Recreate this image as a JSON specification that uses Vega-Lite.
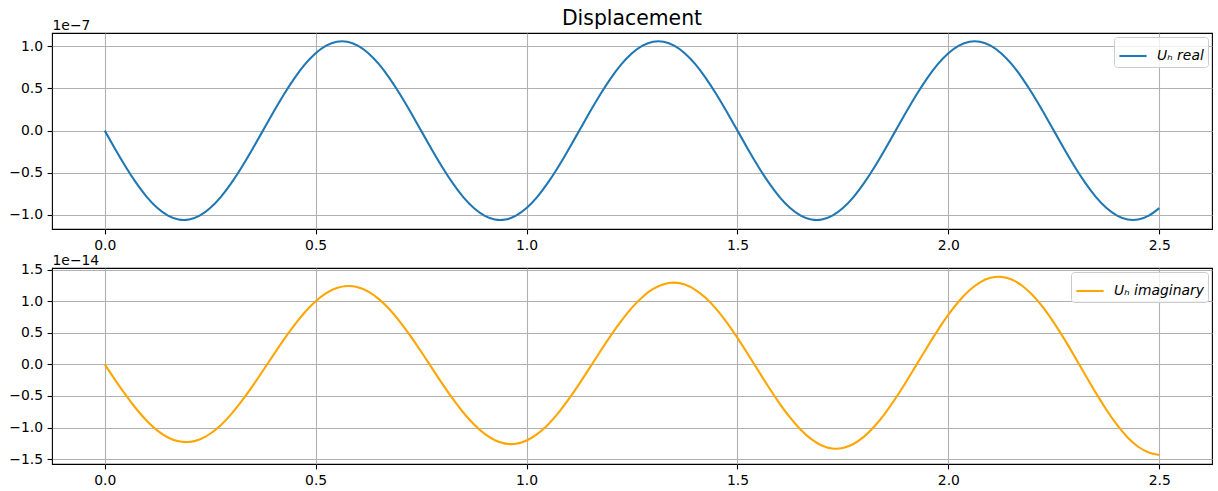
{
  "$schema": "https://vega.github.io/schema/vega-lite/v6.json",
  "background": "white",
  "padding": {"left": 8, "top": 8, "right": 6, "bottom": 5},
  "spacing": 39,
  "bounds": "flush",
  "data": {
    "values": [
      {"t": 0.000, "re": 0, "im": 0},
      {"t": 0.025, "re": -0.220e-7, "im": -0.249e-14},
      {"t": 0.050, "re": -0.431e-7, "im": -0.488e-14},
      {"t": 0.075, "re": -0.623e-7, "im": -0.707e-14},
      {"t": 0.100, "re": -0.788e-7, "im": -0.896e-14},
      {"t": 0.125, "re": -0.918e-7, "im": -1.049e-14},
      {"t": 0.150, "re": -1.008e-7, "im": -1.158e-14},
      {"t": 0.175, "re": -1.054e-7, "im": -1.219e-14},
      {"t": 0.200, "re": -1.054e-7, "im": -1.229e-14},
      {"t": 0.225, "re": -1.008e-7, "im": -1.189e-14},
      {"t": 0.250, "re": -0.918e-7, "im": -1.099e-14},
      {"t": 0.275, "re": -0.788e-7, "im": -0.963e-14},
      {"t": 0.300, "re": -0.623e-7, "im": -0.788e-14},
      {"t": 0.325, "re": -0.431e-7, "im": -0.580e-14},
      {"t": 0.350, "re": -0.220e-7, "im": -0.348e-14},
      {"t": 0.375, "re": 0, "im": -0.101e-14},
      {"t": 0.400, "re": 0.220e-7, "im": 0.151e-14},
      {"t": 0.425, "re": 0.431e-7, "im": 0.396e-14},
      {"t": 0.450, "re": 0.623e-7, "im": 0.626e-14},
      {"t": 0.475, "re": 0.788e-7, "im": 0.830e-14},
      {"t": 0.500, "re": 0.918e-7, "im": 0.999e-14},
      {"t": 0.525, "re": 1.008e-7, "im": 1.128e-14},
      {"t": 0.550, "re": 1.054e-7, "im": 1.209e-14},
      {"t": 0.575, "re": 1.054e-7, "im": 1.241e-14},
      {"t": 0.600, "re": 1.008e-7, "im": 1.222e-14},
      {"t": 0.625, "re": 0.918e-7, "im": 1.152e-14},
      {"t": 0.650, "re": 0.788e-7, "im": 1.033e-14},
      {"t": 0.675, "re": 0.623e-7, "im": 0.872e-14},
      {"t": 0.700, "re": 0.431e-7, "im": 0.674e-14},
      {"t": 0.725, "re": 0.220e-7, "im": 0.448e-14},
      {"t": 0.750, "re": 0, "im": 0.203e-14},
      {"t": 0.775, "re": -0.220e-7, "im": -0.051e-14},
      {"t": 0.800, "re": -0.431e-7, "im": -0.304e-14},
      {"t": 0.825, "re": -0.623e-7, "im": -0.544e-14},
      {"t": 0.850, "re": -0.788e-7, "im": -0.762e-14},
      {"t": 0.875, "re": -0.918e-7, "im": -0.950e-14},
      {"t": 0.900, "re": -1.008e-7, "im": -1.098e-14},
      {"t": 0.925, "re": -1.054e-7, "im": -1.201e-14},
      {"t": 0.950, "re": -1.054e-7, "im": -1.255e-14},
      {"t": 0.975, "re": -1.008e-7, "im": -1.257e-14},
      {"t": 1.000, "re": -0.918e-7, "im": -1.206e-14},
      {"t": 1.025, "re": -0.788e-7, "im": -1.105e-14},
      {"t": 1.050, "re": -0.623e-7, "im": -0.959e-14},
      {"t": 1.075, "re": -0.431e-7, "im": -0.772e-14},
      {"t": 1.100, "re": -0.220e-7, "im": -0.552e-14},
      {"t": 1.125, "re": 0, "im": -0.309e-14},
      {"t": 1.150, "re": 0.220e-7, "im": -0.052e-14},
      {"t": 1.175, "re": 0.431e-7, "im": 0.208e-14},
      {"t": 1.200, "re": 0.623e-7, "im": 0.460e-14},
      {"t": 1.225, "re": 0.788e-7, "im": 0.693e-14},
      {"t": 1.250, "re": 0.918e-7, "im": 0.899e-14},
      {"t": 1.275, "re": 1.008e-7, "im": 1.068e-14},
      {"t": 1.300, "re": 1.054e-7, "im": 1.194e-14},
      {"t": 1.325, "re": 1.054e-7, "im": 1.270e-14},
      {"t": 1.350, "re": 1.008e-7, "im": 1.294e-14},
      {"t": 1.375, "re": 0.918e-7, "im": 1.264e-14},
      {"t": 1.400, "re": 0.788e-7, "im": 1.181e-14},
      {"t": 1.425, "re": 0.623e-7, "im": 1.050e-14},
      {"t": 1.450, "re": 0.431e-7, "im": 0.874e-14},
      {"t": 1.475, "re": 0.220e-7, "im": 0.661e-14},
      {"t": 1.500, "re": 0, "im": 0.420e-14},
      {"t": 1.525, "re": -0.220e-7, "im": 0.160e-14},
      {"t": 1.550, "re": -0.431e-7, "im": -0.107e-14},
      {"t": 1.575, "re": -0.623e-7, "im": -0.371e-14},
      {"t": 1.600, "re": -0.788e-7, "im": -0.621e-14},
      {"t": 1.625, "re": -0.918e-7, "im": -0.845e-14},
      {"t": 1.650, "re": -1.008e-7, "im": -1.036e-14},
      {"t": 1.675, "re": -1.054e-7, "im": -1.185e-14},
      {"t": 1.700, "re": -1.054e-7, "im": -1.284e-14},
      {"t": 1.725, "re": -1.008e-7, "im": -1.332e-14},
      {"t": 1.750, "re": -0.918e-7, "im": -1.324e-14},
      {"t": 1.775, "re": -0.788e-7, "im": -1.261e-14},
      {"t": 1.800, "re": -0.623e-7, "im": -1.145e-14},
      {"t": 1.825, "re": -0.431e-7, "im": -0.981e-14},
      {"t": 1.850, "re": -0.220e-7, "im": -0.775e-14},
      {"t": 1.875, "re": 0, "im": -0.537e-14},
      {"t": 1.900, "re": 0.220e-7, "im": -0.275e-14},
      {"t": 1.925, "re": 0.431e-7, "im": 0},
      {"t": 1.950, "re": 0.623e-7, "im": 0.276e-14},
      {"t": 1.975, "re": 0.788e-7, "im": 0.542e-14},
      {"t": 2.000, "re": 0.918e-7, "im": 0.787e-14},
      {"t": 2.025, "re": 1.008e-7, "im": 1.000e-14},
      {"t": 2.050, "re": 1.054e-7, "im": 1.173e-14},
      {"t": 2.075, "re": 1.054e-7, "im": 1.299e-14},
      {"t": 2.100, "re": 1.008e-7, "im": 1.370e-14},
      {"t": 2.125, "re": 0.918e-7, "im": 1.385e-14},
      {"t": 2.150, "re": 0.788e-7, "im": 1.343e-14},
      {"t": 2.175, "re": 0.623e-7, "im": 1.245e-14},
      {"t": 2.200, "re": 0.431e-7, "im": 1.094e-14},
      {"t": 2.225, "re": 0.220e-7, "im": 0.897e-14},
      {"t": 2.250, "re": 0, "im": 0.662e-14},
      {"t": 2.275, "re": -0.220e-7, "im": 0.399e-14},
      {"t": 2.300, "re": -0.431e-7, "im": 0.116e-14},
      {"t": 2.325, "re": -0.623e-7, "im": -0.173e-14},
      {"t": 2.350, "re": -0.788e-7, "im": -0.456e-14},
      {"t": 2.375, "re": -0.918e-7, "im": -0.722e-14},
      {"t": 2.400, "re": -1.008e-7, "im": -0.959e-14},
      {"t": 2.425, "re": -1.054e-7, "im": -1.158e-14},
      {"t": 2.450, "re": -1.054e-7, "im": -1.305e-14},
      {"t": 2.475, "re": -1.008e-7, "im": -1.395e-14},
      {"t": 2.500, "re": -0.918e-7, "im": -1.437e-14}
    ]
  },
  "config": {
    "font": "DejaVu Sans",
    "view": {"stroke": "black", "strokeWidth": 1.1},
    "axis": {
      "domain": false,
      "grid": true,
      "gridColor": "#b0b0b0",
      "gridWidth": 1.1,
      "gridOpacity": 1,
      "ticks": true,
      "tickColor": "black",
      "tickWidth": 1.1,
      "tickSize": 4.9,
      "labelPadding": 4.5,
      "labelFont": "DejaVu Sans",
      "labelFontSize": 13.9,
      "labelColor": "black",
      "titleFont": "DejaVu Sans",
      "titleFontSize": 13.9,
      "titleFontWeight": "normal",
      "titleColor": "black"
    },
    "legend": {
      "orient": "top-right",
      "offset": 4,
      "padding": 4,
      "strokeColor": "#cccccc",
      "fillColor": "rgba(255,255,255,0.8)",
      "cornerRadius": 3,
      "labelFont": "DejaVu Sans",
      "labelFontSize": 13.9,
      "labelFontStyle": "italic",
      "labelColor": "black",
      "labelOffset": 9,
      "symbolType": "stroke",
      "symbolSize": 740,
      "symbolStrokeWidth": 2.08
    }
  },
  "resolve": {"scale": {"color": "independent", "y": "independent", "x": "independent"}, "legend": {"color": "independent"}},
  "vconcat": [
    {
      "width": 1160,
      "height": 196,
      "title": {"text": "Displacement", "font": "DejaVu Sans", "fontSize": 20.4, "fontWeight": "normal", "color": "black", "anchor": "middle", "frame": "group", "offset": 5, "dy": 16},
      "mark": {"type": "line", "strokeWidth": 2.08, "interpolate": "natural", "clip": true},
      "encoding": {
        "x": {
          "field": "t", "type": "quantitative",
          "scale": {"domain": [-0.125, 2.625], "nice": false, "zero": false},
          "axis": {"values": [0, 0.5, 1, 1.5, 2, 2.5], "format": ".1f", "title": null}
        },
        "y": {
          "field": "re", "type": "quantitative",
          "scale": {"domain": [-1.166e-7, 1.157e-7], "nice": false, "zero": false},
          "axis": {
            "values": [-1e-7, -0.5e-7, 0, 0.5e-7, 1e-7],
            "labelExpr": "format(datum.value * 1e7, '.1f')",
            "title": "1e−7", "titleAngle": 0, "titleX": 0, "titleY": -4,
            "titleAlign": "left", "titleBaseline": "alphabetic"
          }
        },
        "color": {
          "datum": "Uₕ real", "type": "nominal",
          "scale": {"range": ["#1f77b4"]},
          "legend": {"title": null}
        }
      }
    },
    {
      "width": 1160,
      "height": 196,
      "mark": {"type": "line", "strokeWidth": 2.08, "interpolate": "natural", "clip": true},
      "encoding": {
        "x": {
          "field": "t", "type": "quantitative",
          "scale": {"domain": [-0.125, 2.625], "nice": false, "zero": false},
          "axis": {"values": [0, 0.5, 1, 1.5, 2, 2.5], "format": ".1f", "title": null}
        },
        "y": {
          "field": "im", "type": "quantitative",
          "scale": {"domain": [-1.578e-14, 1.526e-14], "nice": false, "zero": false},
          "axis": {
            "values": [-1.5e-14, -1e-14, -0.5e-14, 0, 0.5e-14, 1e-14, 1.5e-14],
            "labelExpr": "format(datum.value * 1e14, '.1f')",
            "title": "1e−14", "titleAngle": 0, "titleX": 0, "titleY": -4,
            "titleAlign": "left", "titleBaseline": "alphabetic"
          }
        },
        "color": {
          "datum": "Uₕ imaginary", "type": "nominal",
          "scale": {"range": ["orange"]},
          "legend": {"title": null}
        }
      }
    }
  ]
}
